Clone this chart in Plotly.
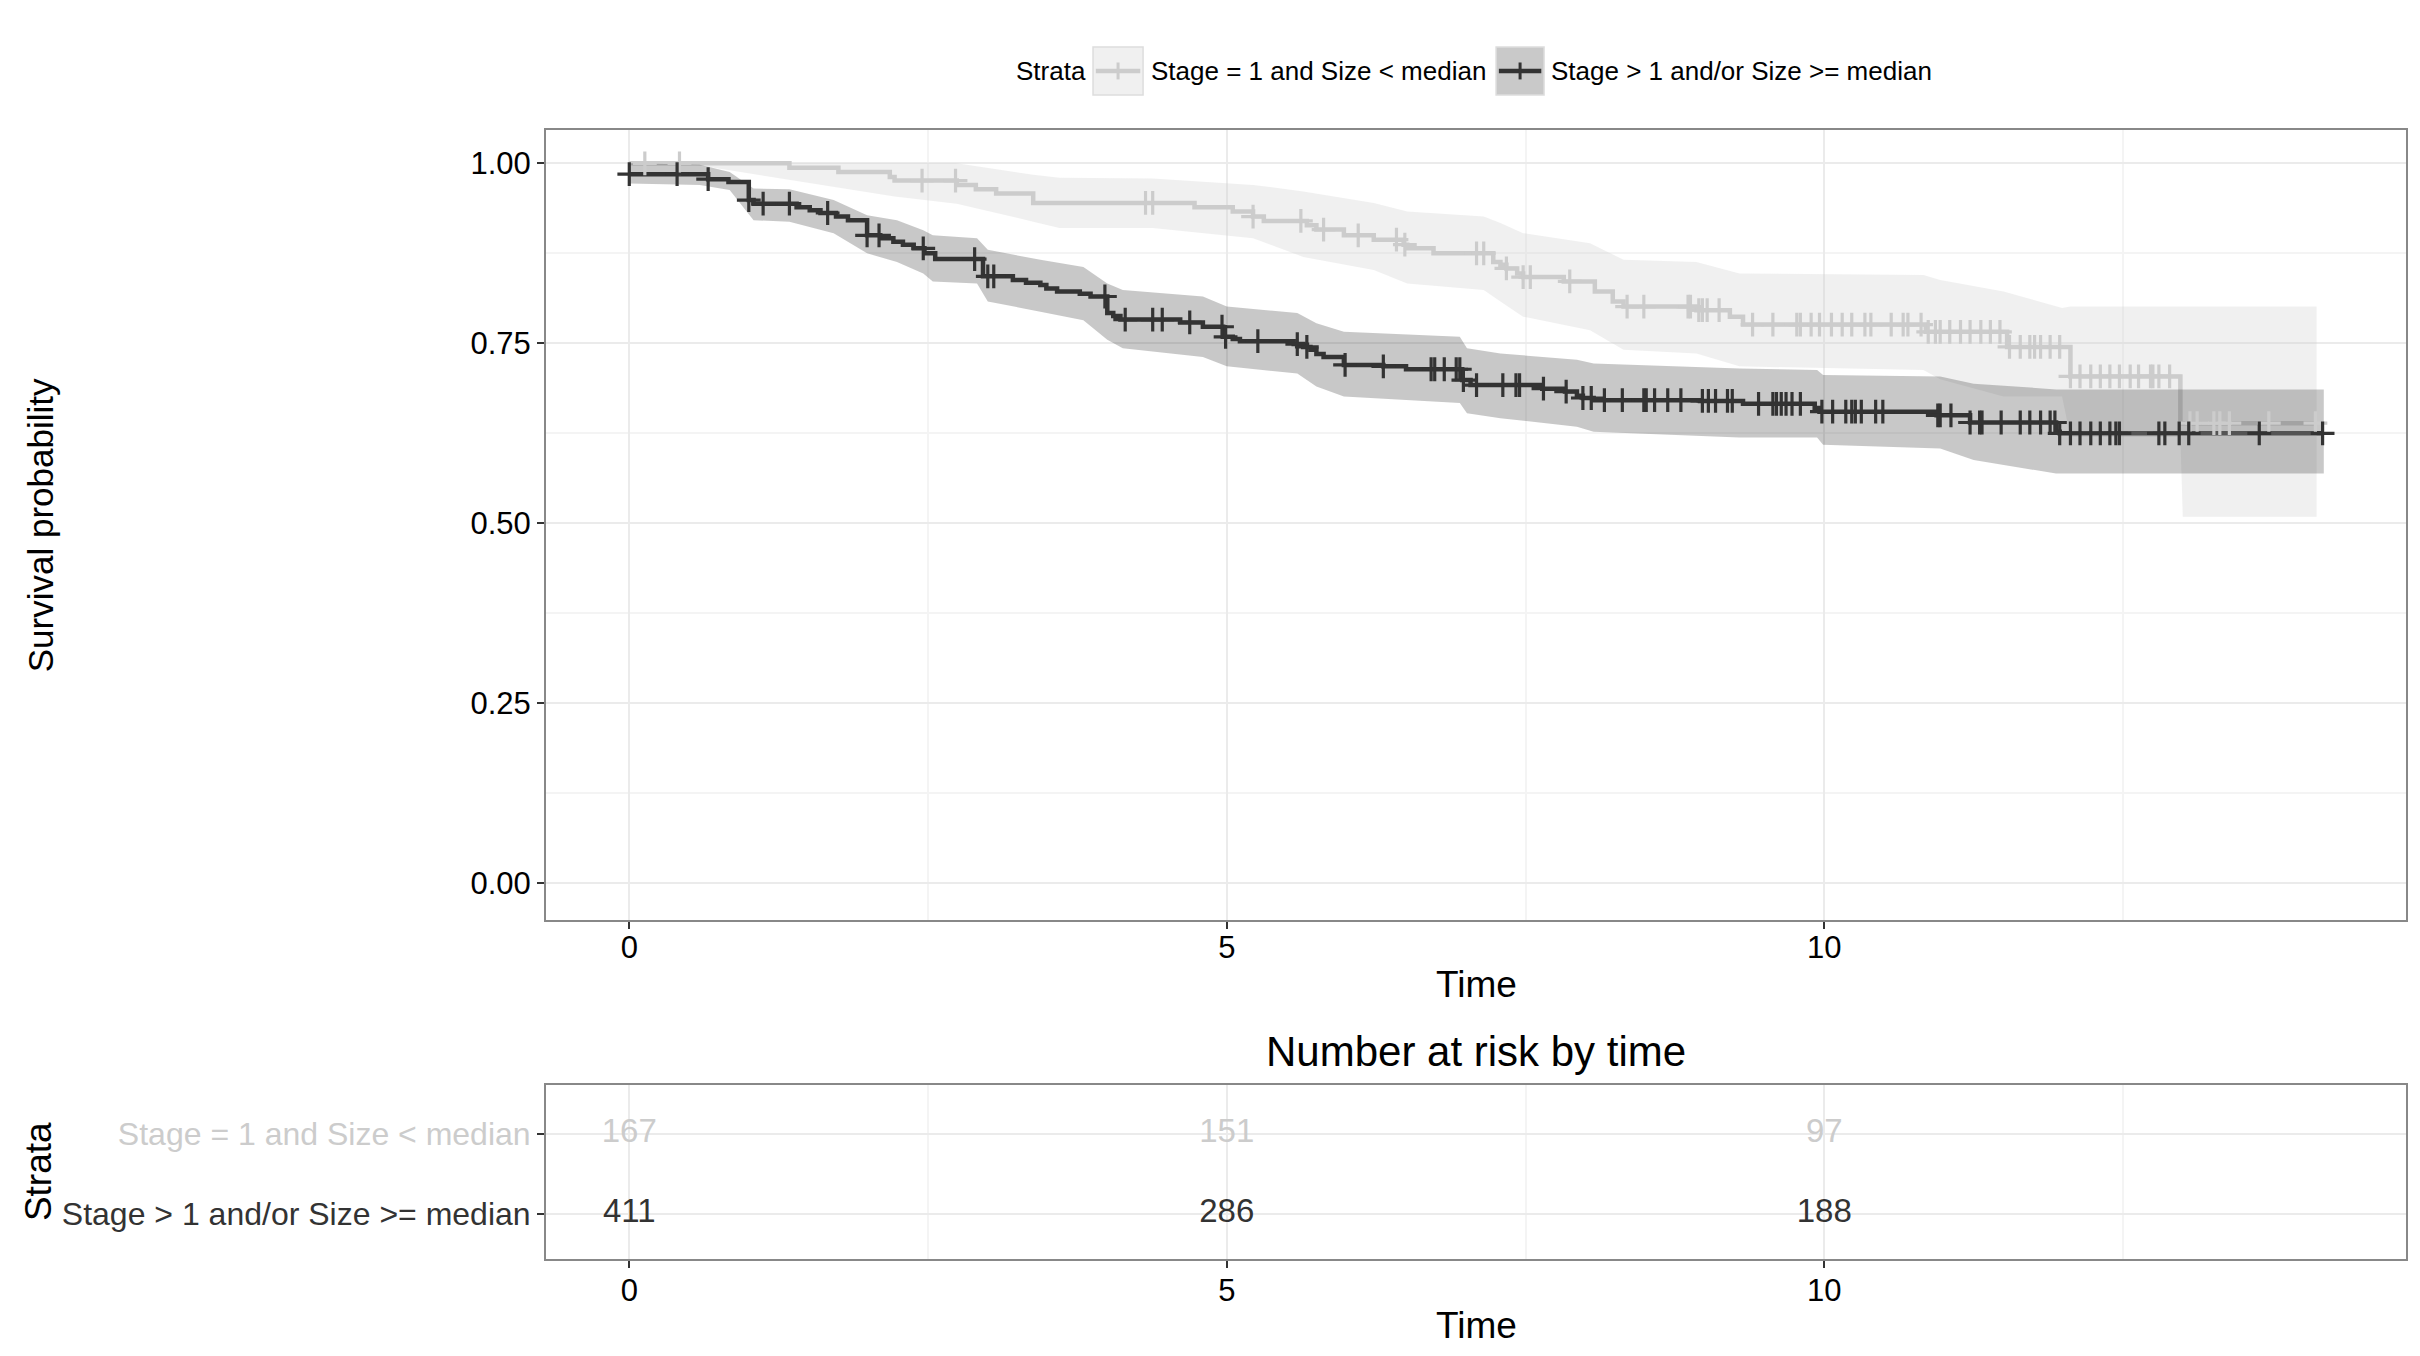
import numpy as np
import plotly.graph_objects as go

# ---- data ----
# Stage = 1 and Size < median  (light)
light_time = [0, 1.34, 1.75, 2.18, 2.22, 2.74, 2.90, 3.07, 3.38, 4.73, 5.05, 5.22, 5.31, 5.67,
              5.75, 5.98, 6.23, 6.48, 6.51, 6.73, 7.23, 7.29, 7.34, 7.43, 7.48, 7.82, 8.08,
              8.23, 8.32, 8.93, 9.21, 9.32, 10.85, 11.53, 12.06, 12.98]
light_surv = [1.0, 0.994, 0.988, 0.981, 0.976, 0.970, 0.964, 0.958, 0.945, 0.939, 0.933, 0.926,
              0.920, 0.914, 0.908, 0.900, 0.894, 0.887, 0.882, 0.875, 0.863, 0.859, 0.854, 0.847,
              0.842, 0.836, 0.822, 0.808, 0.801, 0.796, 0.787, 0.776, 0.766, 0.745, 0.704, 0.639]
light_end = 14.12
light_cens = [0.13, 0.42, 2.45, 2.73, 4.32, 4.38, 5.22, 5.62, 5.81, 6.10, 6.42, 6.49, 7.09, 7.15,
              7.34, 7.48, 7.54, 7.87, 8.35, 8.49, 8.86, 8.88, 8.95, 8.98, 9.02, 9.12, 9.40, 9.57,
              9.77, 9.80, 9.89, 9.96, 10.06, 10.15, 10.23, 10.34, 10.39, 10.56, 10.66, 10.70,
              10.81, 10.87, 10.93, 10.97, 11.05, 11.14, 11.22, 11.31, 11.39, 11.47, 11.55, 11.64,
              11.72, 11.76, 11.81, 11.89, 11.97, 12.06, 12.14, 12.23, 12.31, 12.39, 12.47, 12.56,
              12.63, 12.73, 12.75, 12.80, 12.89, 13.06, 13.12, 13.26, 13.31, 13.39, 13.72, 14.11]
light_ci_t = [0, 0.55, 2.22, 2.74, 3.38, 3.60, 4.38, 5.22, 5.64, 6.23, 6.51, 7.15, 7.29, 7.48,
              8.04, 8.32, 8.93, 9.29, 10.83, 10.97, 11.50, 11.99, 12.06, 12.98, 13.00, 14.12]
light_ci_hi = [1.0, 1.0, 1.0, 1.0, 0.984, 0.980, 0.979, 0.970, 0.961, 0.945, 0.933, 0.926, 0.917,
               0.903, 0.889, 0.866, 0.863, 0.847, 0.845, 0.838, 0.822, 0.799, 0.801, 0.801,
               0.801, 0.801]
light_ci_lo = [1.0, 0.998, 0.954, 0.944, 0.919, 0.910, 0.910, 0.896, 0.870, 0.852, 0.833, 0.824,
               0.808, 0.787, 0.768, 0.741, 0.736, 0.718, 0.713, 0.700, 0.676, 0.676, 0.620,
               0.620, 0.509, 0.509]

# Stage > 1 and/or Size >= median  (dark)
dark_time = [0, 0.66, 0.83, 1.00, 1.04, 1.40, 1.51, 1.60, 1.73, 1.83, 1.99, 2.10, 2.21, 2.29,
             2.38, 2.47, 2.56, 2.96, 3.21, 3.32, 3.44, 3.49, 3.58, 3.77, 3.86, 4.00, 4.05, 4.11,
             4.61, 4.80, 4.97, 5.05, 5.11, 5.56, 5.64, 5.70, 5.75, 5.81, 5.98, 6.31, 6.50, 6.97,
             7.04, 7.64, 7.83, 7.93, 7.98, 8.07, 8.96, 9.32, 9.92, 9.96, 10.94, 11.22, 11.94,
             11.97]
dark_surv = [0.985, 0.978, 0.974, 0.949, 0.944, 0.939, 0.935, 0.931, 0.926, 0.921, 0.900, 0.896,
             0.891, 0.887, 0.882, 0.875, 0.867, 0.843, 0.838, 0.834, 0.831, 0.826, 0.822, 0.819,
             0.815, 0.792, 0.788, 0.783, 0.779, 0.773, 0.759, 0.756, 0.753, 0.749, 0.745, 0.741,
             0.735, 0.731, 0.720, 0.718, 0.714, 0.699, 0.692, 0.687, 0.683, 0.677, 0.674, 0.671,
             0.670, 0.666, 0.660, 0.655, 0.650, 0.640, 0.627, 0.625]
dark_end = 14.18
dark_cens = [0, 0.40, 0.66, 1.00, 1.12, 1.34, 1.66, 1.99, 2.09, 2.46, 2.89, 3.00, 3.05, 3.98,
             4.15, 4.38, 4.46, 4.69, 4.96, 4.99, 5.26, 5.59, 5.67, 5.99, 6.31, 6.71, 6.74, 6.82,
             6.92, 6.95, 6.98, 7.09, 7.31, 7.42, 7.45, 7.65, 7.84, 7.98, 8.05, 8.16, 8.31, 8.49,
             8.51, 8.58, 8.69, 8.80, 8.98, 9.03, 9.09, 9.19, 9.23, 9.45, 9.57, 9.60, 9.64, 9.68,
             9.73, 9.80, 9.98, 10.07, 10.18, 10.23, 10.26, 10.31, 10.43, 10.49, 10.95, 10.97,
             11.06, 11.22, 11.30, 11.32, 11.48, 11.64, 11.72, 11.81, 11.89, 11.93, 11.97, 12.06,
             12.14, 12.23, 12.31, 12.39, 12.44, 12.47, 12.80, 12.85, 12.97, 13.05, 13.64, 14.17]
dark_ci_t = [0, 0.59, 0.84, 1.04, 1.34, 1.71, 1.99, 2.24, 2.46, 2.54, 2.91, 3.00, 3.44, 3.80,
             4.00, 4.13, 4.80, 5.00, 5.59, 5.75, 5.98, 6.95, 7.01, 7.29, 7.93, 8.07, 9.29, 9.94,
             9.99, 10.97, 11.25, 11.94, 14.18]
dark_ci_hi = [1.0, 0.998, 0.988, 0.965, 0.964, 0.949, 0.928, 0.921, 0.907, 0.900, 0.896, 0.880,
              0.866, 0.856, 0.833, 0.824, 0.815, 0.801, 0.792, 0.778, 0.766, 0.759, 0.743, 0.736,
              0.727, 0.722, 0.715, 0.713, 0.706, 0.704, 0.694, 0.686, 0.686]
dark_ci_lo = [0.972, 0.970, 0.963, 0.921, 0.919, 0.903, 0.875, 0.863, 0.847, 0.836, 0.833, 0.808,
              0.794, 0.782, 0.755, 0.743, 0.731, 0.718, 0.708, 0.690, 0.676, 0.667, 0.653, 0.646,
              0.634, 0.627, 0.619, 0.619, 0.609, 0.604, 0.588, 0.569, 0.569]

# number at risk table
risk_times = [0, 5, 10]
risk_light = [167, 151, 97]
risk_dark = [411, 286, 188]
strata_names = ["Stage = 1 and Size < median", "Stage > 1 and/or Size >= median"]

LIGHT = "#cccccc"
DARK = "#333333"
FONT = "Liberation Sans, Arial, Helvetica, sans-serif"


def surv_at(times, surv, t):
    i = np.searchsorted(times, t, side="right") - 1
    return [surv[k] for k in i]


fig = go.Figure()

# survival step lines
for tm, sv, end, col in [(light_time, light_surv, light_end, LIGHT),
                         (dark_time, dark_surv, dark_end, DARK)]:
    fig.add_trace(go.Scatter(x=tm + [end], y=sv + [sv[-1]], mode="lines", line_shape="hv",
                             line=dict(color=col, width=4.5), showlegend=False,
                             hoverinfo="skip"))

# confidence ribbons (drawn over the lines, like the original)
for ct, hi, lo, fc in [(light_ci_t, light_ci_hi, light_ci_lo, "rgba(204,204,204,0.3)"),
                       (dark_ci_t, dark_ci_hi, dark_ci_lo, "rgba(51,51,51,0.27)")]:
    fig.add_trace(go.Scatter(x=ct, y=lo, mode="lines", line=dict(width=0),
                             showlegend=False, hoverinfo="skip"))
    fig.add_trace(go.Scatter(x=ct, y=hi, mode="lines", line=dict(width=0), fill="tonexty",
                             fillcolor=fc, showlegend=False, hoverinfo="skip"))

# censor marks
for tm, sv, cens, col in [(light_time, light_surv, light_cens, LIGHT),
                          (dark_time, dark_surv, dark_cens, DARK)]:
    fig.add_trace(go.Scatter(x=cens, y=surv_at(np.array(tm), sv, np.array(cens)), mode="markers",
                             marker=dict(symbol="cross-thin", size=17,
                                         line=dict(color=col, width=3.2)),
                             showlegend=False, hoverinfo="skip"))

# risk table numbers
fig.add_trace(go.Scatter(x=risk_times, y=[1] * len(risk_times), mode="text",
                         text=[str(v) for v in risk_light],
                         textfont=dict(family=FONT, size=33, color=LIGHT),
                         xaxis="x2", yaxis="y2", showlegend=False, hoverinfo="skip"))
fig.add_trace(go.Scatter(x=risk_times, y=[0] * len(risk_times), mode="text",
                         text=[str(v) for v in risk_dark],
                         textfont=dict(family=FONT, size=33, color=DARK),
                         xaxis="x2", yaxis="y2", showlegend=False, hoverinfo="skip"))

xr = [-0.697, 14.868]
common_x = dict(range=xr, tickvals=[0, 5, 10], ticks="outside", ticklen=7, tickwidth=2,
                tickcolor="#333333", showline=True, mirror=True, linecolor="#888888",
                linewidth=2, showgrid=True, gridcolor="#ebebeb", gridwidth=2, zeroline=False,
                tickfont=dict(family=FONT, size=31, color="black"),
                minor=dict(tick0=0, dtick=2.5, showgrid=True, gridcolor="#f4f4f4", gridwidth=1.5))

fig.update_layout(
    width=2420, height=1356,
    margin=dict(l=546, r=14, t=130, b=97),
    paper_bgcolor="white", plot_bgcolor="white",
    font=dict(family=FONT, color="black"),
    xaxis=dict(domain=[0, 1], anchor="y", ticklabelstandoff=-8, **common_x),
    yaxis=dict(domain=[0.3003, 1], anchor="x", range=[-0.051, 1.0463],
               tickvals=[0, 0.25, 0.5, 0.75, 1.0],
               ticktext=["0.00", "0.25", "0.50", "0.75", "1.00"],
               ticks="outside", ticklen=7, tickwidth=2, tickcolor="#333333",
               showline=True, mirror=True, linecolor="#888888", linewidth=2,
               showgrid=True, gridcolor="#ebebeb", gridwidth=2, zeroline=False,
               tickfont=dict(family=FONT, size=31, color="black"),
               minor=dict(tick0=0, dtick=0.125, showgrid=True, gridcolor="#f4f4f4",
                          gridwidth=1.5)),
    xaxis2=dict(domain=[0, 1], anchor="y2", ticklabelstandoff=-4, **common_x),
    yaxis2=dict(domain=[0, 0.1541], anchor="x2", range=[-0.5625, 1.6125],
                tickvals=[1, 0],
                ticktext=['<span style="color:%s">%s</span>' % (LIGHT, strata_names[0]),
                          '<span style="color:%s">%s</span>' % (DARK, strata_names[1])],
                ticks="outside", ticklen=7, tickwidth=2, tickcolor="#333333",
                showline=True, mirror=True, linecolor="#888888", linewidth=2,
                showgrid=True, gridcolor="#ebebeb", gridwidth=2, zeroline=False,
                tickfont=dict(family=FONT, size=32)),
)

ann = [
    dict(text="Survival probability", x=-0.2720, y=0.650, textangle=-90, font=dict(size=35)),
    dict(text="Time", x=0.5, y=0.2427, font=dict(size=37)),
    dict(text="Number at risk by time", x=0.5, y=0.1834, font=dict(size=42)),
    dict(text="Strata", x=-0.2725, y=0.0771, textangle=-90, font=dict(size=37)),
    dict(text="Time", x=0.5, y=-0.0593, font=dict(size=37)),
]
for a in ann:
    fig.add_annotation(xref="paper", yref="paper", showarrow=False, xanchor="center",
                       yanchor="middle", **a)

# legend drawn by hand to copy ggplot's key boxes
leg_y0, leg_y1, leg_mid = 1.0310, 1.0735, 1.0523
fig.add_annotation(text="Strata", x=0.2516, y=leg_mid, xref="paper", yref="paper",
                   showarrow=False, xanchor="left", yanchor="middle", font=dict(size=26))
for (bx0, bx1, tx, fill, col, name) in [
        (0.2941, 0.3210, 0.3242, "#f0f0f0", LIGHT, strata_names[0]),
        (0.5108, 0.5366, 0.5392, "#c9c9c9", DARK, strata_names[1])]:
    fig.add_shape(type="rect", xref="paper", yref="paper", x0=bx0, x1=bx1, y0=leg_y0, y1=leg_y1,
                  fillcolor=fill, line=dict(color="#dddddd", width=1.5))
    fig.add_shape(type="line", xref="paper", yref="paper", x0=bx0 + 0.0015, x1=bx1 - 0.0015,
                  y0=leg_mid, y1=leg_mid, line=dict(color=col, width=4.5))
    xm = (bx0 + bx1) / 2
    fig.add_shape(type="line", xref="paper", yref="paper", x0=xm, x1=xm,
                  y0=leg_mid - 0.0075, y1=leg_mid + 0.0075, line=dict(color=col, width=3))
    fig.add_annotation(text=name, x=tx, y=leg_mid, xref="paper", yref="paper",
                       showarrow=False, xanchor="left", yanchor="middle", font=dict(size=26))

fig.write_html("out.html", config={"displayModeBar": False},
               post_script="document.body.style.margin='0px';")
